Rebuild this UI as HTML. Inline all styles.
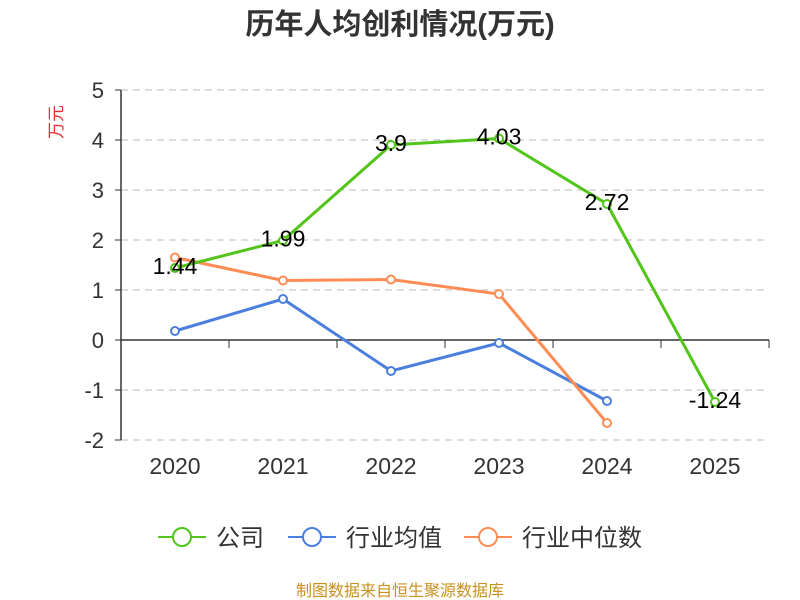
<!DOCTYPE html>
<html><head><meta charset="utf-8"><style>body{margin:0;background:#fff}svg{display:block;font-family:"Liberation Sans","Noto Sans CJK SC",sans-serif}</style></head>
<body>
<svg id="c" width="800" height="600">
<text x="400" y="34" text-anchor="middle" font-size="29" font-weight="bold" fill="#333">历年人均创利情况(万元)</text>
<text x="62" y="122" text-anchor="middle" font-size="17" fill="#e03030" transform="rotate(-90 62 122)">万元</text>
<g id="g"></g>
<g>
<g><line x1="158" y1="537" x2="206" y2="537" stroke="#52c41a" stroke-width="2"/><circle cx="182" cy="537" r="9" fill="#fff" stroke="#52c41a" stroke-width="2"/><text x="216" y="546" font-size="24" fill="#333">公司</text></g>
<g><line x1="288" y1="537" x2="336" y2="537" stroke="#4a7fe0" stroke-width="2"/><circle cx="312" cy="537" r="9" fill="#fff" stroke="#4a7fe0" stroke-width="2"/><text x="346" y="546" font-size="24" fill="#333">行业均值</text></g>
<g><line x1="464" y1="537" x2="512" y2="537" stroke="#ff8c55" stroke-width="2"/><circle cx="488" cy="537" r="9" fill="#fff" stroke="#ff8c55" stroke-width="2"/><text x="522" y="546" font-size="24" fill="#333">行业中位数</text></g>
</g>
<text x="400" y="596" text-anchor="middle" font-size="16" fill="#c89020">制图数据来自恒生聚源数据库</text>
</svg>
<script>
const categories=["2020","2021","2022","2023","2024","2025"];
const company=[1.44,1.99,3.9,4.03,2.72,-1.24];
const industryAvg=[0.18,0.82,-0.62,-0.06,-1.22];
const industryMedian=[1.65,1.19,1.21,0.92,-1.66];
const yTicks=[5,4,3,2,1,0,-1,-2];
const NS="http://www.w3.org/2000/svg";
const g=document.getElementById('g');
const L=121,R=769,bw=(R-L)/categories.length;
const x=i=>L+bw*(i+0.5);
const y=v=>340-v*50;
function el(t,a,p){const e=document.createElementNS(NS,t);for(const k in a)e.setAttribute(k,a[k]);(p||g).appendChild(e);return e;}
yTicks.forEach(v=>{
 if(v!==0){const l=el('line',{x1:L,x2:R,y1:y(v),y2:y(v),stroke:'#bbb','stroke-dasharray':'7,5'});
 
 }
 const tk=el('line',{x1:L-6,x2:L,y1:y(v),y2:y(v),stroke:'#333'});
 
 
 const t=el('text',{x:104,y:y(v)+8,'text-anchor':'end','font-size':22,fill:'#333'});t.textContent=v;
 
 
});
const ya=el('line',{x1:L,x2:L,y1:y(5),y2:y(-2),stroke:'#333','stroke-width':1.5});


const xa=el('line',{x1:L,x2:R,y1:y(0),y2:y(0),stroke:'#333','stroke-width':1.5});


categories.forEach((c,i)=>{
 const tk=el('line',{x1:L+bw*(i+1),x2:L+bw*(i+1),y1:y(0),y2:y(0)+8,stroke:'#333'});
 
 
 const t=el('text',{x:x(i),y:474,'text-anchor':'middle','font-size':23,fill:'#333'});t.textContent=c;
 
 
});
function series(d,col,name){
 const p=el('polyline',{points:d.map((v,i)=>x(i)+','+y(v)).join(' '),fill:'none',stroke:col,'stroke-width':3});
 
 
 d.forEach((v,i)=>{const c=el('circle',{cx:x(i),cy:y(v),r:4,fill:'#fff',stroke:col,'stroke-width':2});
 
 });
}
series(industryAvg,'#4a7fe0','industry-avg');
series(industryMedian,'#ff8c55','industry-median');
series(company,'#52c41a','company');
company.forEach((v,i)=>{const t=el('text',{x:x(i),y:y(v)+6,'text-anchor':'middle','font-size':23,fill:'#000'});t.textContent=v;
 
 });
</script>
</body></html>
